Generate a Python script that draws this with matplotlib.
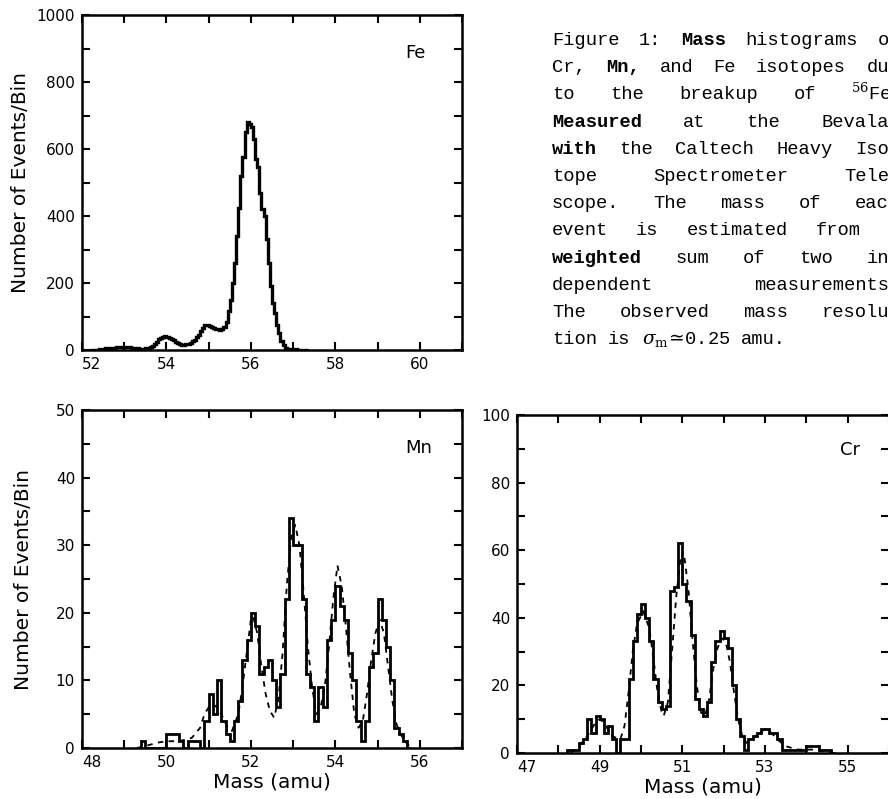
import numpy as np
import matplotlib
matplotlib.use("Agg")
import matplotlib.pyplot as plt

plt.rcParams['font.family'] = ['DejaVu Sans']
plt.rcParams['mathtext.fontset'] = 'dejavuserif'

# ---------------- data ----------------
# Fe histogram: bins of 0.05 amu starting at 52.20
fe_start, fe_width = 52.20, 0.05
fe_counts = [0, 0, 0, 1, 2, 3, 4, 5, 6, 6, 7, 7, 8, 8, 9, 9, 9, 8, 8, 7,
             6, 5, 5, 4, 4, 4, 5, 6, 9, 13, 18, 25, 32, 37, 40, 41, 40, 37, 33, 29,
             25, 21, 18, 16, 16, 17, 19, 22, 26, 31, 38, 46, 56, 66, 74, 76, 72, 68, 66, 64,
             62, 60, 62, 70, 85, 115, 150, 200, 260, 340, 425, 520, 575, 650, 680, 675, 665, 630, 570, 545,
             470, 420, 400, 330, 260, 190, 140, 110, 75, 50, 28, 14, 7, 4, 3, 2, 2, 2, 1, 1,
             1, 1, 0]

# Mn histogram: bins of 0.1 amu starting at 49.4
mn_start, mn_width = 49.4, 0.1
mn_counts = [1, 0, 0, 0, 0, 0, 2, 2, 2, 1, 0, 1, 1, 1, 0, 4, 8, 5, 10, 4,
             2, 1, 4, 7, 13, 16, 20, 18, 11, 12, 13, 10, 6, 11, 22, 34, 30, 30, 22, 11,
             9, 4, 9, 6, 16, 19, 24, 21, 19, 14, 10, 4, 1, 4, 12, 14, 22, 19, 15, 10,
             3, 2, 1, 0]
# Mn fitted curve (dashed)
mn_fit_mass = [49.3, 49.5, 49.8, 50.0, 50.3, 50.6, 50.8, 50.9, 51.0, 51.1, 51.2, 51.3, 51.45, 51.55,
               51.7, 51.8, 51.9, 52.0, 52.05, 52.15, 52.25, 52.35, 52.45, 52.55, 52.65, 52.75, 52.85,
               52.95, 53.05, 53.15, 53.25, 53.35, 53.45, 53.55, 53.65, 53.75, 53.85, 53.95, 54.05,
               54.15, 54.25, 54.35, 54.45, 54.55, 54.65, 54.75, 54.85, 54.95, 55.05, 55.15, 55.25,
               55.35, 55.45, 55.55, 55.65, 55.75, 55.85]
mn_fit_counts = [0, 0.3, 0.8, 1, 1, 1.5, 3, 5, 6, 6.5, 6, 5, 3, 2.5,
                 5, 9, 14, 19, 19.5, 17, 12, 8, 5.5, 4.5, 7, 14, 24,
                 31, 33, 30, 23, 15, 9, 5, 6, 9, 15, 22, 27,
                 24, 18, 11, 5, 3, 4, 8, 13, 17, 19, 17, 12,
                 7, 3.5, 2, 1, 0.3, 0]

# Cr histogram: bins of 0.1 amu starting at 48.2
cr_start, cr_width = 48.2, 0.1
cr_counts = [1, 1, 1, 3, 4, 10, 6, 11, 10, 6, 8, 4, 0, 4, 4, 22, 33, 41, 44, 40,
             33, 22, 15, 13, 14, 48, 49, 62, 50, 45, 35, 16, 13, 11, 15, 27, 33, 36, 34, 31,
             20, 10, 5, 1, 4, 5, 6, 7, 7, 6, 6, 4, 1, 1, 1, 1, 1, 1, 2, 2,
             2, 1, 1, 1, 0]
cr_fit_mass = [48.3, 48.5, 48.7, 48.9, 49.0, 49.1, 49.3, 49.5, 49.6, 49.7, 49.8, 49.9, 50.05,
               50.2, 50.3, 50.4, 50.5, 50.55, 50.65, 50.75, 50.85, 50.95, 51.05, 51.15, 51.25,
               51.35, 51.45, 51.55, 51.65, 51.75, 51.85, 51.95, 52.05, 52.15, 52.25, 52.35,
               52.45, 52.55, 52.7, 52.85, 53.0, 53.15, 53.3, 53.5, 53.8, 54.2, 54.6]
cr_fit_counts = [0, 2, 5, 9, 10, 9, 5, 4, 8, 18, 30, 38, 42,
                 37, 28, 18, 12, 11, 15, 30, 46, 57, 58, 48, 33,
                 20, 12, 11, 16, 25, 31, 34, 33, 27, 18, 10,
                 5, 3, 4, 6, 7, 6, 4, 2, 1, 1, 0]

fe_xticks = [52, 54, 56, 58, 60]
fe_yticks = [0, 200, 400, 600, 800, 1000]
mn_xticks = [48, 50, 52, 54, 56]
mn_yticks = [0, 10, 20, 30, 40, 50]
cr_xticks = [47, 49, 51, 53, 55]
cr_yticks = [0, 20, 40, 60, 80, 100]

caption_lines = [
    "Figure 1:  Mass histograms of",
    "Cr, Mn, and Fe isotopes due",
    "to the breakup of $^{56}$Fe.",
    "Measured at the Bevalac",
    "with the Caltech Heavy Iso-",
    "tope Spectrometer Tele-",
    "scope. The mass of each",
    "event is estimated from a",
    "weighted sum of two in-",
    "dependent measurements.",
    "The observed mass resolu-",
    r"tion is $\sigma_\mathrm{m}\!\simeq\!$0.25 amu.",
]
bold_words = {"Mass", "Mn,", "Measured", "weighted", "with"}

# ---------------- figure ----------------
W, H = 888, 799
fig = plt.figure(figsize=(W / 100, H / 100), dpi=100)


def axes_px(left, right, top, bottom):
    return fig.add_axes([left / W, (H - bottom) / H, (right - left) / W, (bottom - top) / H])


def style(ax, xlim, ylim, xmin_step, ymin_step, xticks, yticks):
    ax.set_xlim(*xlim)
    ax.set_ylim(*ylim)
    ax.set_xticks(np.arange(xlim[0], xlim[1] + 0.01, xmin_step), minor=True)
    ax.set_yticks(np.arange(ylim[0], ylim[1] + 0.01, ymin_step), minor=True)
    ax.set_xticks(xticks)
    ax.set_yticks(yticks)
    ax.tick_params(which='both', direction='in', top=True, right=True,
                   length=6, width=1.5, labelsize=11, pad=5)
    for s in ax.spines.values():
        s.set_linewidth(1.8)
    lbls = ax.get_xticklabels()
    lbls[0].set_horizontalalignment('left')


def edges(start, width, n):
    return np.round(start + width * np.arange(n + 1), 3)


# Fe
ax_fe = axes_px(82, 462, 15, 350)
ax_fe.stairs(fe_counts, edges(fe_start, fe_width, len(fe_counts)), color='black', lw=2.4)
style(ax_fe, (52, 61), (0, 1000), 1, 100, fe_xticks, fe_yticks)
ax_fe.set_ylabel("Number of Events/Bin", fontsize=14.5, labelpad=5)
ax_fe.text(0.85, 0.872, "Fe", transform=ax_fe.transAxes, fontsize=13)

# Mn
ax_mn = axes_px(82, 462, 410, 748)
ax_mn.stairs(mn_counts, edges(mn_start, mn_width, len(mn_counts)), color='black', lw=2.0)
ax_mn.plot(mn_fit_mass, mn_fit_counts, color='black', lw=1.3, ls=(0, (3, 3)))
style(ax_mn, (48, 57), (0, 50), 1, 5, mn_xticks, mn_yticks)
ax_mn.set_ylabel("Number of Events/Bin", fontsize=14.5, labelpad=16)
ax_mn.set_xlabel("Mass (amu)", fontsize=14.5, labelpad=2)
ax_mn.text(0.85, 0.873, "Mn", transform=ax_mn.transAxes, fontsize=13)

# Cr
ax_cr = axes_px(517, 889, 415, 753)
ax_cr.stairs(cr_counts, edges(cr_start, cr_width, len(cr_counts)), color='black', lw=2.0)
ax_cr.plot(cr_fit_mass, cr_fit_counts, color='black', lw=1.3, ls=(0, (3, 3)))
style(ax_cr, (47, 56), (0, 100), 1, 10, cr_xticks, cr_yticks)
ax_cr.set_xlabel("Mass (amu)", fontsize=14.5, labelpad=2)
ax_cr.text(0.868, 0.882, "Cr", transform=ax_cr.transAxes, fontsize=13)

# Caption (justified, runs past right edge like the scan)
renderer = fig.canvas.get_renderer()
x0, x1 = 552, 900
y_first, dy = 45, 27.2
for i, line in enumerate(caption_lines):
    words = line.split()
    texts = []
    for w in words:
        t = fig.text(0, 0, w, fontsize=13.5, family=['Liberation Mono', 'DejaVu Sans Mono'],
                     fontweight='bold' if w in bold_words else 'normal',
                     va='baseline', ha='left')
        texts.append(t)
    widths = [t.get_window_extent(renderer).width for t in texts]
    last = (i == len(caption_lines) - 1)
    if last or len(words) == 1:
        gap = 11
    else:
        gap = (x1 - x0 - sum(widths)) / (len(words) - 1)
    x = x0
    yb = y_first + i * dy
    for t, w in zip(texts, widths):
        t.set_position((x / W, 1 - yb / H))
        x += w + gap

fig.savefig("out.png", dpi=100)
